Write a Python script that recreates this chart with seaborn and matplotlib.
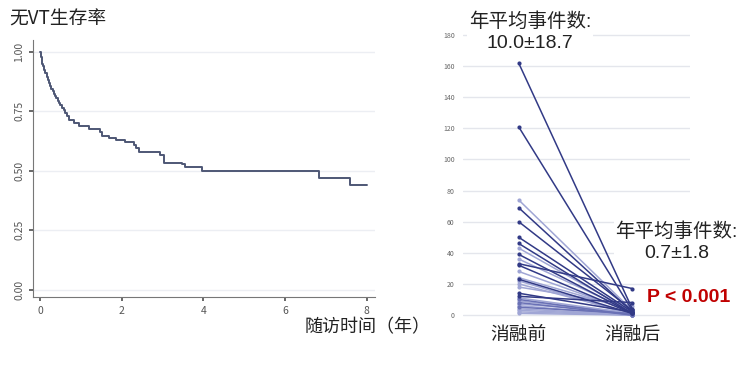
import pandas as pd
import seaborn as sns
import matplotlib.pyplot as plt

# Kaplan-Meier estimate: freedom from VT
km_time = [0.0, 0.02, 0.04, 0.06, 0.08, 0.1, 0.13, 0.16, 0.19, 0.22, 0.25, 0.28, 0.31, 0.34,
           0.37, 0.4, 0.43, 0.46, 0.5, 0.54, 0.58, 0.62, 0.66, 0.71, 0.83, 0.95,
           1.2, 1.48, 1.52, 1.69, 1.85, 2.09, 2.3, 2.36, 2.42, 2.95, 3.03, 3.48, 3.56,
           3.97, 6.84, 7.59, 8.0]
km_surv = [1.0, 0.98, 0.965, 0.95, 0.94, 0.925, 0.91, 0.895, 0.88, 0.87, 0.855, 0.845, 0.835,
           0.825, 0.815, 0.805, 0.795, 0.785, 0.775, 0.765, 0.755, 0.745, 0.73, 0.715, 0.70,
           0.69, 0.675, 0.665, 0.645, 0.638, 0.628, 0.62, 0.61, 0.595, 0.58, 0.565, 0.535,
           0.53, 0.515, 0.50, 0.47, 0.44, 0.44]

# annual VT events per patient, before and after ablation
phases = ["消融前", "消融后"]
before = [162, 121, 74, 69, 60, 50, 46, 43, 39, 36, 33, 32, 28, 24, 23, 22, 20, 18,
          14, 12, 11, 10, 9, 8, 7, 6, 5, 4, 3, 2, 1]
after = [4, 3, 3, 2, 3, 2, 1, 2, 1, 2, 17, 1, 2, 3, 1, 0, 1, 6,
         2, 8, 1, 0, 1, 0, 2, 0, 1, 0, 0, 0, 0]
shade = ["dark", "dark", "light", "dark", "dark", "dark", "dark", "light", "dark", "light",
         "dark", "dark", "light", "light", "dark", "light", "light", "light",
         "dark", "dark", "light", "mid", "light", "mid", "light", "light", "mid", "light",
         "light", "light", "light"]


def main() -> None:
    sns.set_theme(style="white")
    plt.rcParams["font.family"] = ["Noto Sans CJK SC", "DejaVu Sans"]
    num_font = ["Liberation Sans", "Noto Sans CJK SC"]

    fig = plt.figure(figsize=(7.51, 3.72), dpi=100)

    # ---- left: survival curve
    ax1 = fig.add_axes([0.044, 0.2016, 0.455, 0.691])
    km = pd.DataFrame({"time": km_time, "surv": km_surv})
    sns.lineplot(data=km, x="time", y="surv", drawstyle="steps-post",
                 color="#4e5775", linewidth=1.4, ax=ax1)
    ax1.set_xlim(-0.17, 8.2)
    ax1.set_ylim(-0.03, 1.05)
    ax1.set_xticks([0, 2, 4, 6, 8])
    ax1.set_yticks([0, 0.25, 0.5, 0.75, 1.0])
    ax1.set_yticklabels(["0.00", "0.25", "0.50", "0.75", "1.00"], rotation=90, va="center")
    ax1.tick_params(axis="both", labelsize=7.5, colors="#555555", length=3, direction="out",
                    left=True, bottom=True)
    ax1.grid(axis="y", color="#eceef3", linewidth=1)
    for side in ["top", "right"]:
        ax1.spines[side].set_visible(False)
    for side in ["left", "bottom"]:
        ax1.spines[side].set_color("#777777")
        ax1.spines[side].set_linewidth(0.8)
    ax1.set_xlabel("")
    ax1.set_ylabel("")
    fig.text(0.012, 0.95, "无VT生存率", fontsize=13.5, color="#222222", va="center")
    fig.text(0.405, 0.12, "随访时间（年）", fontsize=13, color="#222222", va="center")

    # ---- right: paired annual events
    ax2 = fig.add_axes([0.6165, 0.1323, 0.3025, 0.782])
    rows = []
    for i, (b, a, s) in enumerate(zip(before, after, shade)):
        rows.append({"pid": i, "phase": phases[0], "events": b, "shade": s})
        rows.append({"pid": i, "phase": phases[1], "events": a, "shade": s})
    df = pd.DataFrame(rows)
    order = ["light", "mid", "dark"]
    df["shade"] = pd.Categorical(df["shade"], categories=order, ordered=True)
    df = df.sort_values(["shade", "pid"])
    sns.lineplot(data=df, x="phase", y="events", units="pid", estimator=None,
                 hue="shade", hue_order=order,
                 palette={"light": "#a0a6d5", "mid": "#6a71b5", "dark": "#323a86"},
                 marker="o", markersize=3, markeredgewidth=0, linewidth=1.1,
                 legend=False, ax=ax2)
    ax2.set_xlim(-0.49, 1.51)
    ax2.set_ylim(-5, 182)
    ax2.set_yticks(range(0, 181, 20))
    ax2.tick_params(axis="y", labelsize=5, colors="#666666", length=0, pad=6)
    ax2.tick_params(axis="x", labelsize=13.5, colors="#222222", length=0, pad=1)
    ax2.grid(axis="y", color="#e4e6ec", linewidth=1)
    sns.despine(ax=ax2, left=True, bottom=True)
    ax2.set_xlabel("")
    ax2.set_ylabel("")

    box = dict(facecolor="white", edgecolor="none", pad=1)
    ax2.text(0.1, 182, "年平均事件数:\n10.0±18.7", fontsize=14, color="#222222",
             family=num_font, ha="center", va="center", linespacing=1.3, bbox=box)
    ax2.text(1.39, 47, "年平均事件数:\n0.7±1.8", fontsize=14, color="#222222",
             family=num_font, ha="center", va="center", linespacing=1.3, bbox=box)
    ax2.text(1.5, 11, "P < 0.001", fontsize=14, color="#c00000", fontweight="bold",
             family=num_font, ha="center", va="center", bbox=box)

    fig.savefig("out.png", dpi=100)
    plt.close(fig)


if __name__ == "__main__":
    main()
